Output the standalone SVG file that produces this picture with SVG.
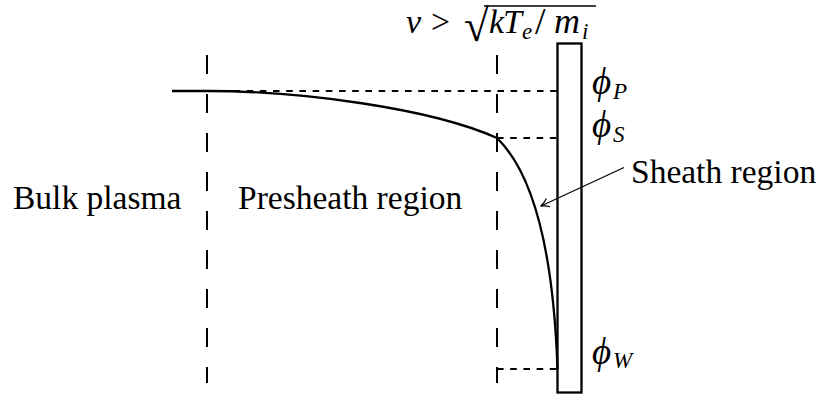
<svg xmlns="http://www.w3.org/2000/svg" width="818" height="397" viewBox="0 0 818 397">
<style>
.txt{font-family:"Liberation Serif","Times New Roman",serif;font-size:33.5px;fill:#000}
.mi{font-family:"Liberation Serif","DejaVu Serif",serif;font-style:italic;font-size:34px;fill:#000}
.sub{font-family:"Liberation Serif","DejaVu Serif",serif;font-style:italic;font-size:23px;fill:#000}
.vdash{stroke:#000;stroke-width:2;fill:none;stroke-dasharray:19 20}
.hdash{stroke:#000;stroke-width:2;fill:none;stroke-dasharray:6.6 6.6}
.thick{stroke:#000;stroke-width:2.3;fill:none}
</style>
<defs>
<marker id="arr" markerWidth="12" markerHeight="12" refX="9" refY="5" orient="auto" markerUnits="userSpaceOnUse">
<path d="M1,0.5 Q5,4 9.5,5 Q5,6 1,9.5" fill="none" stroke="#000" stroke-width="1.2"/>
</marker>
</defs>
<g id="boundaries">
<line class="vdash" x1="207" y1="55" x2="207" y2="383"/>
<line class="vdash" x1="497" y1="55" x2="497" y2="383"/>
</g>
<g id="levels">
<line class="hdash" x1="207" y1="91" x2="557" y2="91"/>
<line class="hdash" x1="497" y1="138" x2="557" y2="138"/>
<line class="hdash" x1="497" y1="369" x2="557" y2="369"/>
</g>
<g id="wall">
<rect class="thick" x="557.5" y="43.5" width="24" height="349"/>
</g>
<g id="potential">
<path class="thick" d="M172,91 L207,91 C300,91 430,108 497,138 C530,170 553,240 557.5,369"/>
</g>
<g id="labels">
<text class="txt" x="13" y="209">Bulk plasma</text>
<text class="txt" x="238" y="209">Presheath region</text>
<text class="txt" x="631" y="183">Sheath region</text>
</g>
<g id="phiP"><text class="mi" x="592" y="94" style="font-size:37px">ϕ</text><text class="sub" x="613" y="99">P</text></g>
<g id="phiS"><text class="mi" x="592" y="137" style="font-size:37px">ϕ</text><text class="sub" x="613" y="142">S</text></g>
<g id="phiW"><text class="mi" x="592" y="364" style="font-size:37px">ϕ</text><text class="sub" x="613" y="368">W</text></g>
<g id="condition">
<text class="mi" x="406" y="33">v</text>
<text class="txt" x="431" y="33">&gt;</text>
<text class="txt" x="464" y="41" style="font-size:45px">√</text>
<line x1="484" y1="6" x2="596" y2="6" stroke="#000" stroke-width="1.5"/>
<text class="mi" x="489" y="33">k</text>
<text class="mi" x="503" y="33">T</text>
<text class="sub" x="522" y="39">e</text>
<text class="txt" x="535" y="34" style="font-size:38px">/</text>
<text class="mi" x="554" y="33" style="font-size:36px">m</text>
<text class="sub" x="582" y="39">i</text>
</g>
<g id="connectors">
<line x1="624" y1="167.5" x2="541" y2="206" stroke="#000" stroke-width="1.2" marker-end="url(#arr)"/>
</g>
</svg>
